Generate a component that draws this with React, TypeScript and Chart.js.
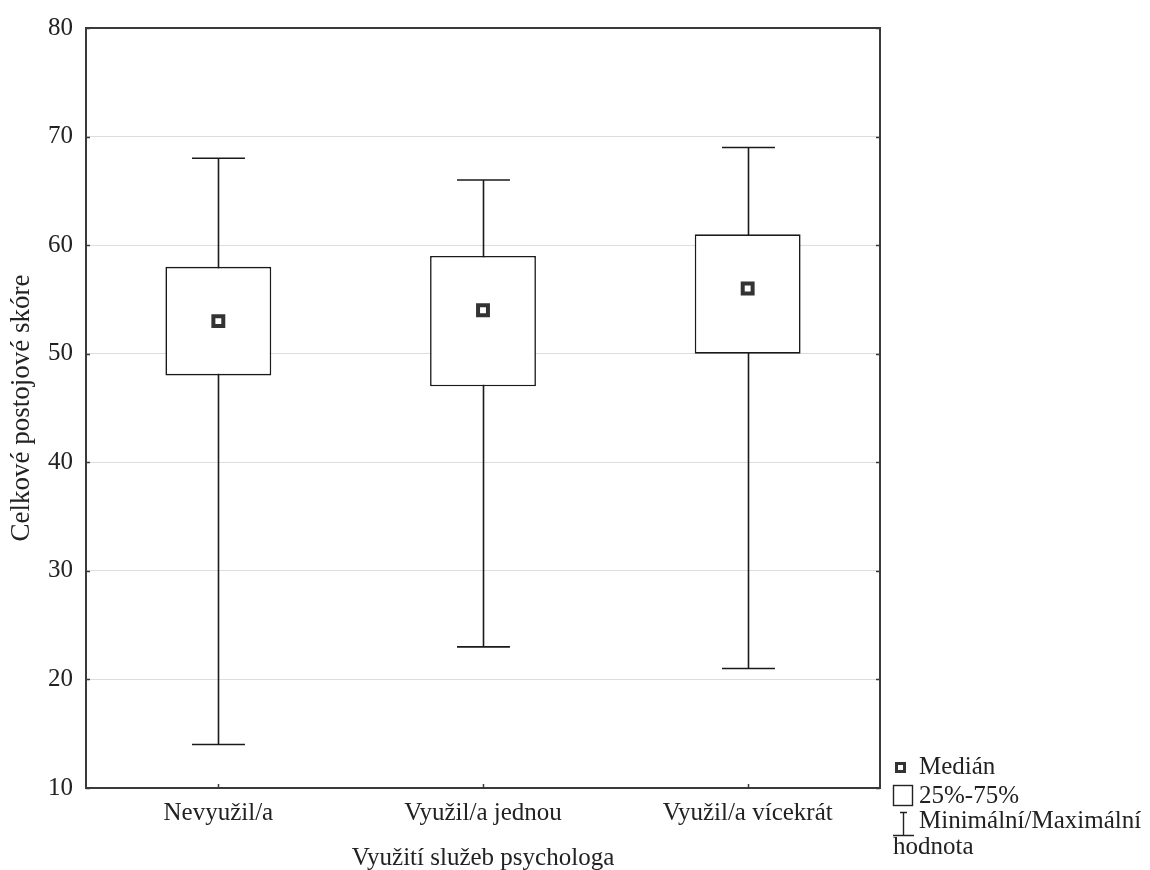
import React, { useEffect, useRef } from "react";
import { Chart, registerables } from "chart.js";

Chart.register(...registerables);

const categories = ["Nevyužil/a", "Využil/a jednou", "Využil/a vícekrát"];
const minValues = [14, 23, 21];
const q1Values = [48, 47, 50];
const medianValues = [53, 54, 56];
const q3Values = [58, 59, 61];
const maxValues = [68, 66, 69];
const yTicks = [10, 20, 30, 40, 50, 60, 70, 80];
const legendLabels = ["Medián", "25%-75%", "Minimální/Maximální", "hodnota"];

const FONT = "'Liberation Serif', 'Times New Roman', serif";
const TEXT = "#222";
const FRAME = "#3a3a3a";

const whiskerPlugin = {
  id: "whiskers",
  beforeDatasetsDraw(chart: any) {
    const { ctx, chartArea } = chart;
    const xs = chart.scales.x;
    const ys = chart.scales.y;
    const meta = chart.getDatasetMeta(0);
    ctx.save();
    // frame
    ctx.strokeStyle = FRAME;
    ctx.lineWidth = 2;
    ctx.strokeRect(chartArea.left, chartArea.top, chartArea.right - chartArea.left, chartArea.bottom - chartArea.top);
    // inner ticks
    ctx.lineWidth = 1.5;
    yTicks.forEach((v) => {
      const y = Math.round(ys.getPixelForValue(v)) + 0.5;
      ctx.beginPath();
      ctx.moveTo(chartArea.left, y);
      ctx.lineTo(chartArea.left + 4, y);
      ctx.moveTo(chartArea.right, y);
      ctx.lineTo(chartArea.right - 4, y);
      ctx.stroke();
    });
    categories.forEach((_, i) => {
      const x = Math.round(xs.getPixelForValue(i)) + 0.5;
      ctx.beginPath();
      ctx.moveTo(x, chartArea.bottom);
      ctx.lineTo(x, chartArea.bottom - 4);
      ctx.stroke();
    });
    // whiskers
    ctx.strokeStyle = "#1a1a1a";
    ctx.lineWidth = 1.6;
    categories.forEach((_, i) => {
      const x = Math.round(xs.getPixelForValue(i)) + 0.5;
      const el = meta.data[i];
      const half = (el ? el.width : 100) / 4;
      const yMin = ys.getPixelForValue(minValues[i]);
      const yMax = ys.getPixelForValue(maxValues[i]);
      ctx.beginPath();
      ctx.moveTo(x, yMin);
      ctx.lineTo(x, yMax);
      ctx.moveTo(x - half, yMin);
      ctx.lineTo(x + half, yMin);
      ctx.moveTo(x - half, yMax);
      ctx.lineTo(x + half, yMax);
      ctx.stroke();
    });
    ctx.restore();
  },
  afterDraw(chart: any) {
    const { ctx } = chart;
    ctx.save();
    ctx.font = `25px ${FONT}`;
    ctx.fillStyle = TEXT;
    ctx.textBaseline = "alphabetic";
    ctx.textAlign = "left";
    // median marker
    ctx.strokeStyle = "#333";
    ctx.lineWidth = 3;
    ctx.fillStyle = "#fff";
    ctx.fillRect(896.5, 763.5, 8, 8);
    ctx.strokeRect(896.5, 763.5, 8, 8);
    ctx.fillStyle = TEXT;
    ctx.fillText(legendLabels[0], 919, 774);
    // box
    ctx.lineWidth = 1.4;
    ctx.strokeStyle = "#222";
    ctx.strokeRect(893.5, 785.5, 19, 20);
    ctx.fillText(legendLabels[1], 919, 803);
    // whisker glyph
    ctx.beginPath();
    ctx.moveTo(903.5, 812);
    ctx.lineTo(903.5, 835);
    ctx.moveTo(893, 835.5);
    ctx.lineTo(914, 835.5);
    ctx.moveTo(900, 812.5);
    ctx.lineTo(907, 812.5);
    ctx.stroke();
    ctx.fillText(legendLabels[2], 919, 828);
    ctx.fillText(legendLabels[3], 893, 854);
    ctx.restore();
  },
};

export default function App() {
  const ref = useRef<HTMLCanvasElement | null>(null);
  useEffect(() => {
    document.body.style.margin = "0";
    const canvas = ref.current;
    if (!canvas) return;
    const chart = new Chart(canvas, {
      type: "bar",
      data: {
        labels: categories,
        datasets: [
          {
            type: "bar",
            order: 2,
            data: q1Values.map((v, i) => [v, q3Values[i]]) as any,
            backgroundColor: "#ffffff",
            borderColor: "#1a1a1a",
            borderWidth: 1.6,
            borderSkipped: false,
            barPercentage: 0.4,
            categoryPercentage: 1,
            grouped: false,
          } as any,
          {
            type: "line",
            order: 1,
            data: medianValues,
            showLine: false,
            pointStyle: "rect",
            pointRadius: 7,
            pointHoverRadius: 7,
            borderWidth: 4,
            borderColor: "#333",
            backgroundColor: "#fff",
          } as any,
        ],
      },
      options: {
        animation: false,
        responsive: false,
        events: [],
        layout: { padding: { top: 25, right: 270, left: 0, bottom: 0 } },
        plugins: { legend: { display: false }, tooltip: { enabled: false } },
        scales: {
          x: {
            type: "category",
            grid: { display: false, drawTicks: false },
            border: { display: false },
            ticks: { color: TEXT, font: { family: FONT, size: 25 }, padding: 10 },
            title: {
              display: true,
              text: "Využití služeb psychologa",
              color: TEXT,
              font: { family: FONT, size: 25 },
              padding: { top: 0, bottom: -3 },
            },
            afterFit(scale: any) {
              scale.height = 82;
            },
          },
          y: {
            min: 10,
            max: 80,
            grid: { color: "#dddddd", lineWidth: 1, drawTicks: false },
            border: { display: false },
            ticks: {
              stepSize: 10,
              color: TEXT,
              font: { family: FONT, size: 25 },
              padding: 13,
            },
            title: {
              display: true,
              text: "Celkové postojové skóre",
              color: TEXT,
              font: { family: FONT, size: 27 },
              padding: { top: 6, bottom: 0 },
            },
            afterFit(scale: any) {
              scale.width = 86;
            },
          },
        },
      },
      plugins: [whiskerPlugin],
    });
    return () => chart.destroy();
  }, []);
  return (
    <div style={{ position: "fixed", left: 0, top: 0, width: 1150, height: 870, background: "#fff" }}>
      <canvas ref={ref} width={1150} height={870} style={{ width: 1150, height: 870, display: "block" }} />
    </div>
  );
}
